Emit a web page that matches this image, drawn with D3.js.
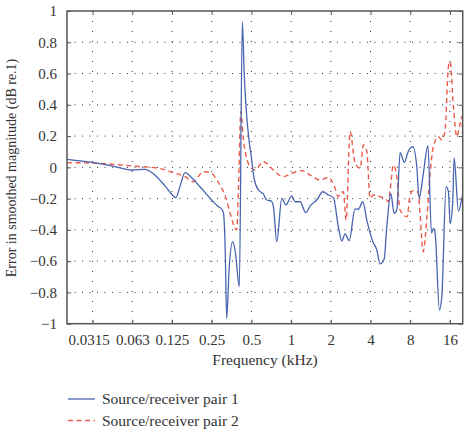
<!DOCTYPE html>
<meta charset="utf-8">
<style>
  body { margin: 0; background: white; }
  svg { background-color: white; }
  text { font-family: "Liberation Serif", "DejaVu Serif", serif; fill: #333; }
</style>
<div id="chart"></div>
<script src="https://d3js.org/d3.v7.min.js"></script>
<script>
// frequency tick positions (kHz) and their printed labels
var tickFreqs = [0.03125, 0.0625, 0.125, 0.25, 0.5, 1, 2, 4, 8, 16];
var tickLabels = ["0.0315", "0.063", "0.125", "0.25", "0.5", "1", "2", "4", "8", "16"];
var yTicks = [-1, -0.8, -0.6, -0.4, -0.2, 0, 0.2, 0.4, 0.6, 0.8, 1];

// source/receiver pair 1
var freq1 = [0.02, 0.0317, 0.0437, 0.062, 0.078, 0.093, 0.111, 0.124, 0.1337, 0.144, 0.157,
  0.178, 0.204, 0.25, 0.28, 0.298, 0.307, 0.316, 0.325, 0.339, 0.361, 0.379,
  0.405, 0.427, 0.44, 0.456, 0.476, 0.503, 0.524, 0.565, 0.616, 0.654,
  0.705, 0.734, 0.779, 0.85, 0.911, 1.012, 1.072, 1.17, 1.293, 1.393,
  1.566, 1.739, 1.918, 2.093, 2.283, 2.423, 2.567, 2.753, 3.057, 3.238,
  3.496, 3.75, 4.165, 4.466, 4.731, 5.073, 5.318, 5.702, 6.039, 6.33,
  6.706, 7.23, 7.71, 8.37, 8.98, 9.35, 10.02, 10.9, 11.6, 12.0,
  12.36, 13.32, 13.89, 14.97, 15.59, 16.06, 16.83, 17.22, 18.56, 19.7, 20];
var err1 = [0.051, 0.03, 0.01, -0.017, -0.013, -0.05, -0.12, -0.17, -0.194, -0.12, -0.034,
  -0.07, -0.124, -0.209, -0.25, -0.268, -0.29, -0.5, -0.966, -0.65, -0.475, -0.55,
  -0.763, 0.93, 0.62, 0.38, 0.2, 0.047, -0.07, -0.145, -0.17, -0.209,
  -0.215, -0.25, -0.475, -0.198, -0.24, -0.183, -0.22, -0.22, -0.29, -0.247,
  -0.209, -0.156, -0.177, -0.194, -0.38, -0.471, -0.426, -0.469, -0.266, -0.268,
  -0.22, -0.337, -0.475, -0.529, -0.618, -0.588, -0.38, -0.166, -0.294, -0.273,
  0.094, 0.032, 0.1, 0.132, 0.0, -0.198, -0.05, 0.139, -0.42, -0.39,
  -0.42, -0.912, -0.827, -0.124, -0.156, -0.36, -0.209, 0.06, -0.28, -0.2, -0.17];

// source/receiver pair 2
var freq2 = [0.02, 0.0346, 0.062, 0.0987, 0.128, 0.157, 0.182, 0.197, 0.216, 0.25,
  0.273, 0.298, 0.322, 0.345, 0.387, 0.4, 0.416, 0.435, 0.46, 0.489,
  0.533, 0.616, 0.734, 0.865, 1.012, 1.206, 1.393, 1.659, 1.918, 2.156,
  2.272, 2.394, 2.492, 2.612, 2.801, 3.057, 3.336, 3.533, 3.75, 3.972,
  4.208, 4.731, 5.162, 5.468, 5.633, 5.968, 6.33, 6.706, 7.58, 7.94,
  8.41, 9.18, 9.51, 10.02, 10.75, 11.27, 11.99, 13.09, 13.89, 14.71,
  15.59, 16.06, 17.01, 18.05, 18.89, 19.7, 20];
var err2 = [0.03, 0.026, 0.009, -0.006, -0.034, -0.06, -0.092, -0.06, -0.028, -0.038,
  -0.08, -0.134, -0.2, -0.294, -0.4, -0.1, 0.356, 0.175, 0.06, 0.004,
  -0.017, 0.036, -0.017, -0.06, -0.038, -0.021, -0.049, -0.081, -0.064, -0.134,
  -0.188, -0.16, -0.156, -0.337, 0.228, 0.026, -0.006, 0.143, 0.1, -0.198,
  -0.177, -0.188, -0.198, -0.22, -0.145, 0.015, -0.06, -0.273, -0.316, -0.188,
  -0.15, -0.16, -0.3, -0.54, -0.3, -0.06, 0.132, 0.196, 0.175, 0.239,
  0.644, 0.676, 0.388, 0.196, 0.26, 0.324, 0.2];

var seriesNames = ["Source/receiver pair 1", "Source/receiver pair 2"];
var colors = ["#4764b0", "#ec5b4b"];

var W = 467, H = 432;
var plotL = 67, plotR = 462.7, plotT = 11, plotB = 323.7;

var svg = d3.select("#chart").append("svg")
  .attr("width", W).attr("height", H);

var x = d3.scaleLog().base(2).domain([0.02, 20]).range([plotL, plotR]);
var y = d3.scaleLinear().domain([-1, 1]).range([plotB, plotT]);

// dotted grid
svg.append("g").selectAll("line").data(yTicks.filter(function(d){ return d > -1 && d < 1; }))
  .enter().append("line")
  .attr("x1", plotL).attr("x2", plotR)
  .attr("y1", function(d){ return y(d); }).attr("y2", function(d){ return y(d); })
  .attr("stroke", "#333").attr("stroke-width", 1)
  .attr("stroke-dasharray", "1,6.5");

svg.append("g").selectAll("line").data(tickFreqs)
  .enter().append("line")
  .attr("x1", function(d){ return x(d); }).attr("x2", function(d){ return x(d); })
  .attr("y1", plotT).attr("y2", plotB)
  .attr("stroke", "#333").attr("stroke-width", 1)
  .attr("stroke-dasharray", "1,9");

// curves
svg.append("clipPath").attr("id", "clip").append("rect")
  .attr("x", plotL).attr("y", plotT).attr("width", plotR - plotL).attr("height", plotB - plotT);

var line = d3.line()
  .x(function(d){ return x(d[0]); })
  .y(function(d){ return y(d[1]); })
  .curve(d3.curveMonotoneX);

var data1 = d3.zip(freq1, err1), data2 = d3.zip(freq2, err2);

svg.append("path").datum(data2)
  .attr("clip-path", "url(#clip)")
  .attr("fill", "none").attr("stroke", colors[1])
  .attr("stroke-width", 1.4).attr("stroke-dasharray", "5,3.5")
  .attr("d", line);

svg.append("path").datum(data1)
  .attr("clip-path", "url(#clip)")
  .attr("fill", "none").attr("stroke", colors[0])
  .attr("stroke-width", 1.3)
  .attr("d", line);

// axes: ticks pointing inwards on all four sides
svg.append("g").attr("transform", "translate(0," + plotB + ")")
  .call(d3.axisBottom(x).tickValues(tickFreqs).tickSizeInner(-4).tickSizeOuter(0)
    .tickFormat(function(d, i){ return tickLabels[i]; }))
  .call(function(g){
    g.select(".domain").remove();
    g.selectAll("line").attr("stroke", "#555");
    g.selectAll("text").attr("y", 11).attr("font-size", "15px")
      .attr("font-family", "Liberation Serif, serif").attr("fill", "#333")
      .attr("dx", function(d, i){ return i === 0 ? -4 : 0; });
  });

svg.append("g").attr("transform", "translate(0," + plotT + ")")
  .call(d3.axisTop(x).tickValues(tickFreqs).tickSizeInner(-4).tickSizeOuter(0).tickFormat(""))
  .call(function(g){ g.select(".domain").remove(); g.selectAll("line").attr("stroke", "#555"); });

svg.append("g").attr("transform", "translate(" + plotL + ",0)")
  .call(d3.axisLeft(y).tickValues(yTicks).tickSizeInner(-4).tickSizeOuter(0)
    .tickFormat(function(d){ return d === 0 ? "0" : d3.format("")(d).replace("-", "\u2212"); }))
  .call(function(g){
    g.select(".domain").remove();
    g.selectAll("line").attr("stroke", "#555");
    g.selectAll("text").attr("x", -10).attr("font-size", "15px")
      .attr("font-family", "Liberation Serif, serif").attr("fill", "#333");
  });

svg.append("g").attr("transform", "translate(" + plotR + ",0)")
  .call(d3.axisRight(y).tickValues(yTicks).tickSizeInner(-4).tickSizeOuter(0).tickFormat(""))
  .call(function(g){ g.select(".domain").remove(); g.selectAll("line").attr("stroke", "#555"); });

// frame
svg.append("rect")
  .attr("x", plotL).attr("y", plotT).attr("width", plotR - plotL).attr("height", plotB - plotT)
  .attr("fill", "none").attr("stroke", "#555").attr("stroke-width", 1.5);

// axis titles
svg.append("text")
  .attr("x", 265).attr("y", 365)
  .attr("text-anchor", "middle").attr("font-size", "15.5px")
  .text("Frequency (kHz)");

svg.append("text")
  .attr("transform", "translate(15.5," + 168 + ") rotate(-90)")
  .attr("text-anchor", "middle").attr("font-size", "14px")
  .text("Error in smoothed magnitude (dB re.1)");

// legend
var legend = svg.append("g").selectAll("g").data(seriesNames).enter().append("g")
  .attr("transform", function(d, i){ return "translate(68," + (399 + i * 21.5) + ")"; });

legend.append("line")
  .attr("x1", 0).attr("x2", 27).attr("y1", 0).attr("y2", 0)
  .attr("stroke", function(d, i){ return colors[i]; })
  .attr("stroke-width", 1.3)
  .attr("stroke-dasharray", function(d, i){ return i ? "5,3.5" : null; });

legend.append("text")
  .attr("x", 34).attr("y", 5).attr("font-size", "15.5px")
  .text(function(d){ return d; });
</script>
